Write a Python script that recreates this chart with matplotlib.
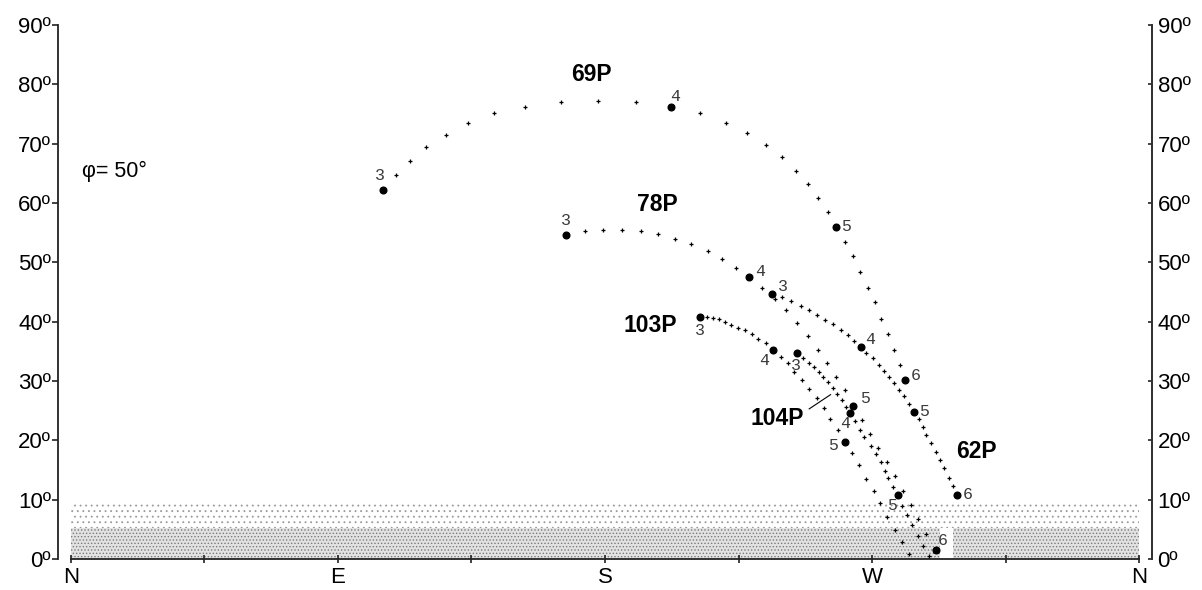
import matplotlib
matplotlib.use('Agg')
import matplotlib.pyplot as plt
from matplotlib.patches import Rectangle

# ---------------- data: azimuth (deg from N through E) / altitude (deg) ----------------
latitude_label = "φ= 50°"

dir_ticks = [0, 90, 180, 270, 360]
dir_labels = ["N", "E", "S", "W", "N"]
alt_ticks = [0, 10, 20, 30, 40, 50, 60, 70, 80, 90]

# 69P
c69_hours = ["3", "4", "5", "6"]
c69_hour_az = [105.3, 202.2, 258.0, 281.1]
c69_hour_alt = [62.2, 76.1, 56.0, 30.2]
c69_az = [109.6, 114.2, 119.6, 126.5, 133.8, 142.6, 153.1, 165.2, 177.8, 190.4,
          212.0, 220.8, 228.0, 234.3, 239.7, 244.3, 248.4, 251.8, 255.2,
          261.0, 263.5, 266.0, 268.5, 271.0, 273.1, 275.3, 277.3, 279.4]
c69_alt = [64.8, 67.1, 69.4, 71.5, 73.4, 75.1, 76.2, 77.0, 77.2, 77.0,
           75.1, 73.4, 71.8, 69.8, 67.8, 65.4, 63.2, 60.8, 58.5,
           53.5, 51.0, 48.3, 45.7, 43.3, 40.5, 38.0, 35.3, 32.7]

# 78P
c78_hours = ["3", "4", "5", "6"]
c78_hour_az = [166.9, 228.6, 263.7, 291.5]
c78_hour_alt = [54.6, 47.5, 25.8, 1.5]
c78_az = [173.2, 179.4, 185.6, 192.0, 197.8, 203.7, 209.1, 214.6, 219.5, 224.2,
          232.9, 237.3, 241.0, 244.6, 248.3, 251.7, 254.7, 257.7, 260.9,
          266.6, 269.3, 272.0, 274.9, 277.7, 280.4, 283.1, 285.6, 288.3]
c78_alt = [55.3, 55.5, 55.5, 55.3, 54.8, 53.9, 53.1, 51.9, 50.6, 49.1,
           45.6, 43.9, 41.9, 39.7, 37.6, 35.2, 33.1, 30.7, 28.5,
           23.4, 21.1, 18.7, 16.3, 14.0, 11.5, 9.1, 6.7, 4.2]

# 62P
c62_hours = ["3", "4", "5", "6"]
c62_hour_az = [236.2, 266.1, 284.0, 298.6]
c62_hour_alt = [44.7, 35.7, 24.8, 10.8]
c62_az = [239.6, 242.7, 246.0, 248.9, 251.3, 254.2, 256.9, 259.5, 261.8, 264.0,
          268.1, 270.2, 272.2, 273.9, 275.6, 277.4, 279.1, 280.8, 282.3,
          285.7, 287.0, 288.3, 289.9, 291.4, 292.9, 294.3, 295.8, 297.3]
c62_alt = [44.1, 43.4, 42.6, 42.0, 41.1, 40.3, 39.6, 38.6, 37.8, 36.8,
           34.8, 33.8, 32.7, 31.7, 30.7, 29.7, 28.5, 27.4, 26.2,
           23.6, 22.2, 20.9, 19.6, 18.1, 16.7, 15.3, 13.7, 12.3]

# 103P
c103_hours = ["3", "4", "5"]
c103_hour_az = [212.0, 236.7, 261.0]
c103_hour_alt = [40.8, 35.3, 19.8]
c103_az = [214.3, 216.3, 218.5, 220.4, 222.5, 224.8, 227.2, 229.4, 231.7, 234.3,
           239.2, 241.8, 243.8, 246.3, 248.9, 251.3, 253.9, 255.8, 258.4,
           263.3, 265.6, 268.1, 270.6, 272.7, 275.0, 277.7, 280.2, 282.4]
c103_alt = [40.8, 40.7, 40.4, 39.9, 39.5, 39.0, 38.6, 38.0, 37.1, 36.4,
            34.1, 33.1, 31.6, 30.2, 28.7, 27.1, 25.4, 23.6, 21.7,
            17.8, 15.8, 13.4, 11.5, 9.4, 7.1, 4.9, 2.8, 0.8]

# 104P
c104_hours = ["3", "4", "5"]
c104_hour_az = [244.6, 262.6, 278.7]
c104_hour_alt = [34.7, 24.6, 10.8]
c104_az = [246.7, 248.6, 250.4, 252.0, 253.6, 255.2, 256.7, 258.2, 259.8, 261.2,
           264.2, 265.8, 267.4, 269.6, 271.2, 273.0, 274.3, 275.5, 277.0,
           280.1, 281.8, 283.6, 285.3, 287.2, 289.2]
c104_alt = [33.8, 33.1, 32.3, 31.6, 30.7, 29.8, 28.9, 27.8, 26.8, 25.7,
            23.2, 21.8, 20.5, 19.1, 17.7, 16.3, 14.9, 13.6, 12.2,
            9.0, 7.4, 5.7, 3.9, 2.2, 0.5]

# comet names and their label positions
names = ["69P", "78P", "103P", "104P", "62P"]
name_az = [175.3, 197.7, 195.2, 238.1, 305.0]
name_alt = [81.6, 59.8, 39.4, 23.7, 18.2]
leader_104_az = [248.8, 256.0]
leader_104_alt = [25.3, 27.7]

# horizon haze bands (altitude limits)
haze_low = (0.0, 5.2)
haze_high = (5.2, 9.4)
label_gap_az = (292.9, 297.3)

# ---------------- styling helpers ----------------
# hour-label offsets (pixels) relative to the hour dot: (dx, dy) with dy up
c69_off = [(-3, 14), (4, 11), (10, 0), (11, 4)]
c78_off = [(0, 15), (11, 6), (12, 7), (7, 10)]
c62_off = [(11, 7), (10, 8), (10, 0), (11, 0)]
c103_off = [(0, -14), (-9, -11), (-12, -4)]
c104_off = [(-1, -12), (-5, -10), (-6, -11)]

plt.rcParams['font.family'] = ['Liberation Sans', 'DejaVu Sans']
plt.rcParams['hatch.linewidth'] = 0.6

fig = plt.figure(figsize=(12.02, 5.90), dpi=100)
ax = fig.add_axes([58 / 1202, 1 - 559 / 590, (1152 - 58) / 1202, (559 - 25) / 590])
ax.set_xlim(-4.28, 364.3)
ax.set_ylim(0, 90)

# haze bands
ax.add_patch(Rectangle((0, haze_low[0]), 360, haze_low[1] - haze_low[0],
                       facecolor='#e2e2e2', edgecolor='#7a7a7a', hatch='.....', lw=0, zorder=1))
ax.add_patch(Rectangle((0, haze_high[0]), 360, haze_high[1] - haze_high[0],
                       facecolor='white', edgecolor='#9a9a9a', hatch='...', lw=0, zorder=1))
ax.add_patch(Rectangle((label_gap_az[0], haze_low[0]), label_gap_az[1] - label_gap_az[0],
                       haze_low[1] - haze_low[0], facecolor='white', edgecolor='none', zorder=1.5))

tracks = [
    (c69_az, c69_alt, c69_hour_az, c69_hour_alt, c69_hours, c69_off),
    (c78_az, c78_alt, c78_hour_az, c78_hour_alt, c78_hours, c78_off),
    (c62_az, c62_alt, c62_hour_az, c62_hour_alt, c62_hours, c62_off),
    (c103_az, c103_alt, c103_hour_az, c103_hour_alt, c103_hours, c103_off),
    (c104_az, c104_alt, c104_hour_az, c104_hour_alt, c104_hours, c104_off),
]

for az, alt, haz, halt, hlab, offs in tracks:
    ax.plot(az, alt, linestyle='none', marker='+', ms=3.0, mew=0.9, color='black', zorder=3)
    ax.plot(haz, halt, linestyle='none', marker='o', ms=4.8, color='black', zorder=4)
    for x, y, t, (dx, dy) in zip(haz, halt, hlab, offs):
        ax.annotate(t, (x, y), xytext=(dx, dy), textcoords='offset pixels',
                    ha='center', va='center', fontsize=12, color='#3a3a3a',
                    family='Liberation Mono', zorder=5)

for n, x, y in zip(names, name_az, name_alt):
    ax.text(x, y, n, ha='center', va='center', fontsize=16.5, fontweight='bold', color='black', zorder=5)
ax.plot(leader_104_az, leader_104_alt, color='black', lw=0.8, zorder=3)

ax.text(3.7, 65.4, latitude_label, ha='left', va='center', fontsize=15.5, color='black')

# axes styling
ax.spines['top'].set_visible(False)
ax.spines['bottom'].set_bounds(0, 360)
for s in ['left', 'bottom', 'right']:
    ax.spines[s].set_linewidth(1.3)
    ax.spines[s].set_color('#222222')

ax.set_xticks(list(range(0, 361, 45)))
ax.set_xticklabels([dir_labels[dir_ticks.index(v)] if v in dir_ticks else '' for v in range(0, 361, 45)])
ax.tick_params(axis='x', direction='inout', length=6, width=1.2, pad=3, labelsize=16, color='#222222')

ax.set_yticks(alt_ticks)
ax.set_yticklabels([f"{v}º" for v in alt_ticks])
ax.tick_params(axis='y', direction='out', length=4, width=1.2, pad=1, labelsize=16, color='#222222')

ax2 = ax.twinx()
ax2.set_ylim(0, 90)
ax2.set_yticks(alt_ticks)
ax2.set_yticklabels([f"{v}º" for v in alt_ticks])
ax2.tick_params(axis='y', direction='in', length=3, width=1.2, pad=4, labelsize=16, color='#222222')
for s in ['top', 'left', 'bottom']:
    ax2.spines[s].set_visible(False)
ax2.spines['right'].set_linewidth(1.3)
ax2.spines['right'].set_color('#333333')

fig.savefig('out.png', dpi=100)
